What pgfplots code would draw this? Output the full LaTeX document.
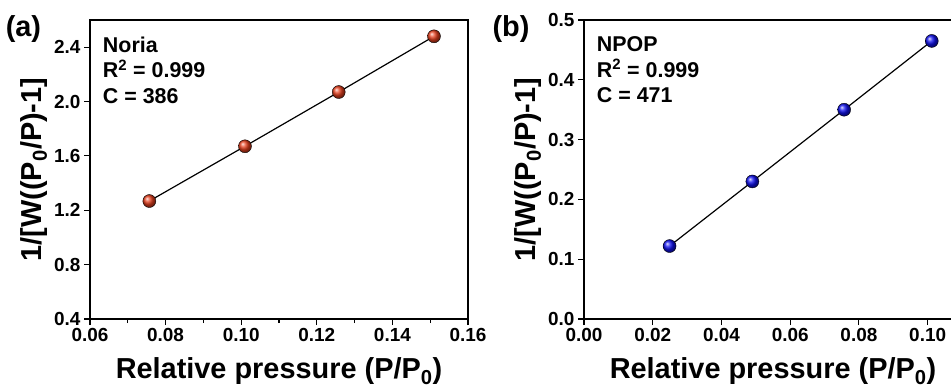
\documentclass[border=0pt]{standalone}
\usepackage{pgfplots}
\pgfplotsset{compat=1.18}
\usepackage{fontspec}
\setmainfont{Liberation Sans}
\definecolor{myred}{HTML}{E8401E}
\definecolor{myblue}{HTML}{1010F0}
\pgfplotsset{
  myax/.style={
    scale only axis,
    width=378bp, height=299bp,
    axis line style={line width=1.3pt},
    tick style={line width=1.1pt, black},
    major tick length=6bp,
    minor tick length=4bp,
    tick align=outside,
    xtick pos=bottom, ytick pos=left,
    tick label style={font=\fontsize{19}{19}\selectfont\bfseries},
    /pgf/number format/assume math mode=true,
    /pgf/number format/fixed,
    /pgf/number format/fixed zerofill,
    label style={font=\fontsize{29}{29}\selectfont\bfseries},
    xlabel={Relative pressure (P/P\textsubscript{0})},
    ylabel={1/[W((P\textsubscript{0}/P)-1]},
    xlabel style={yshift=-9bp},
    ylabel style={yshift=0bp},
    clip=false,
  }
}
\begin{document}
\begin{tikzpicture}[x=1bp,y=1bp]
\begin{axis}[myax, at={(90bp,71bp)}, anchor=south west,
  xmin=0.06, xmax=0.16, ymin=0.4, ymax=2.6,
  xtick={0.06,0.08,...,0.16}, minor x tick num=1,
  ytick={0.4,0.8,...,2.4},
  xticklabel style={/pgf/number format/precision=2},
  yticklabel style={/pgf/number format/precision=1},
]
\addplot[black, line width=1.2pt, no marks] coordinates {(0.0757,1.268) (0.1010,1.671) (0.1258,2.070) (0.1510,2.480)};
\addplot[only marks, mark=ball, mark size=6.5bp, ball color=myred] coordinates {(0.0757,1.268) (0.1010,1.671) (0.1258,2.070) (0.1510,2.480)};
\node[anchor=north west, align=left, font=\fontsize{21.5}{25.5}\selectfont\bfseries] at (rel axis cs:0.025,0.955) {Noria\\R\textsuperscript{2} = 0.999\\C = 386};
\node[anchor=north east, font=\fontsize{29}{29}\selectfont\bfseries] at (rel axis cs:-0.12,1.025) {(a)};
\end{axis}
\begin{axis}[myax, at={(584bp,71bp)}, anchor=south west,
  xmin=0, xmax=0.11, ymin=0, ymax=0.5,
  xtick={0,0.02,...,0.1},
  ytick={0,0.1,...,0.5},
  xticklabel style={/pgf/number format/precision=2},
  yticklabel style={/pgf/number format/precision=1},
]
\addplot[black, line width=1.2pt, no marks] coordinates {(0.0249,0.122) (0.0490,0.230) (0.0757,0.350) (0.1012,0.465)};
\addplot[only marks, mark=ball, mark size=6.5bp, ball color=myblue] coordinates {(0.0249,0.122) (0.0490,0.230) (0.0757,0.350) (0.1012,0.465)};
\node[anchor=north west, align=left, font=\fontsize{21.5}{25.5}\selectfont\bfseries] at (rel axis cs:0.025,0.955) {NPOP\\R\textsuperscript{2} = 0.999\\C = 471};
\node[anchor=north east, font=\fontsize{29}{29}\selectfont\bfseries] at (rel axis cs:-0.135,1.025) {(b)};
\end{axis}
\pgfresetboundingbox
\useasboundingbox (0,0) rectangle (951bp,390bp);
\end{tikzpicture}
\end{document}
